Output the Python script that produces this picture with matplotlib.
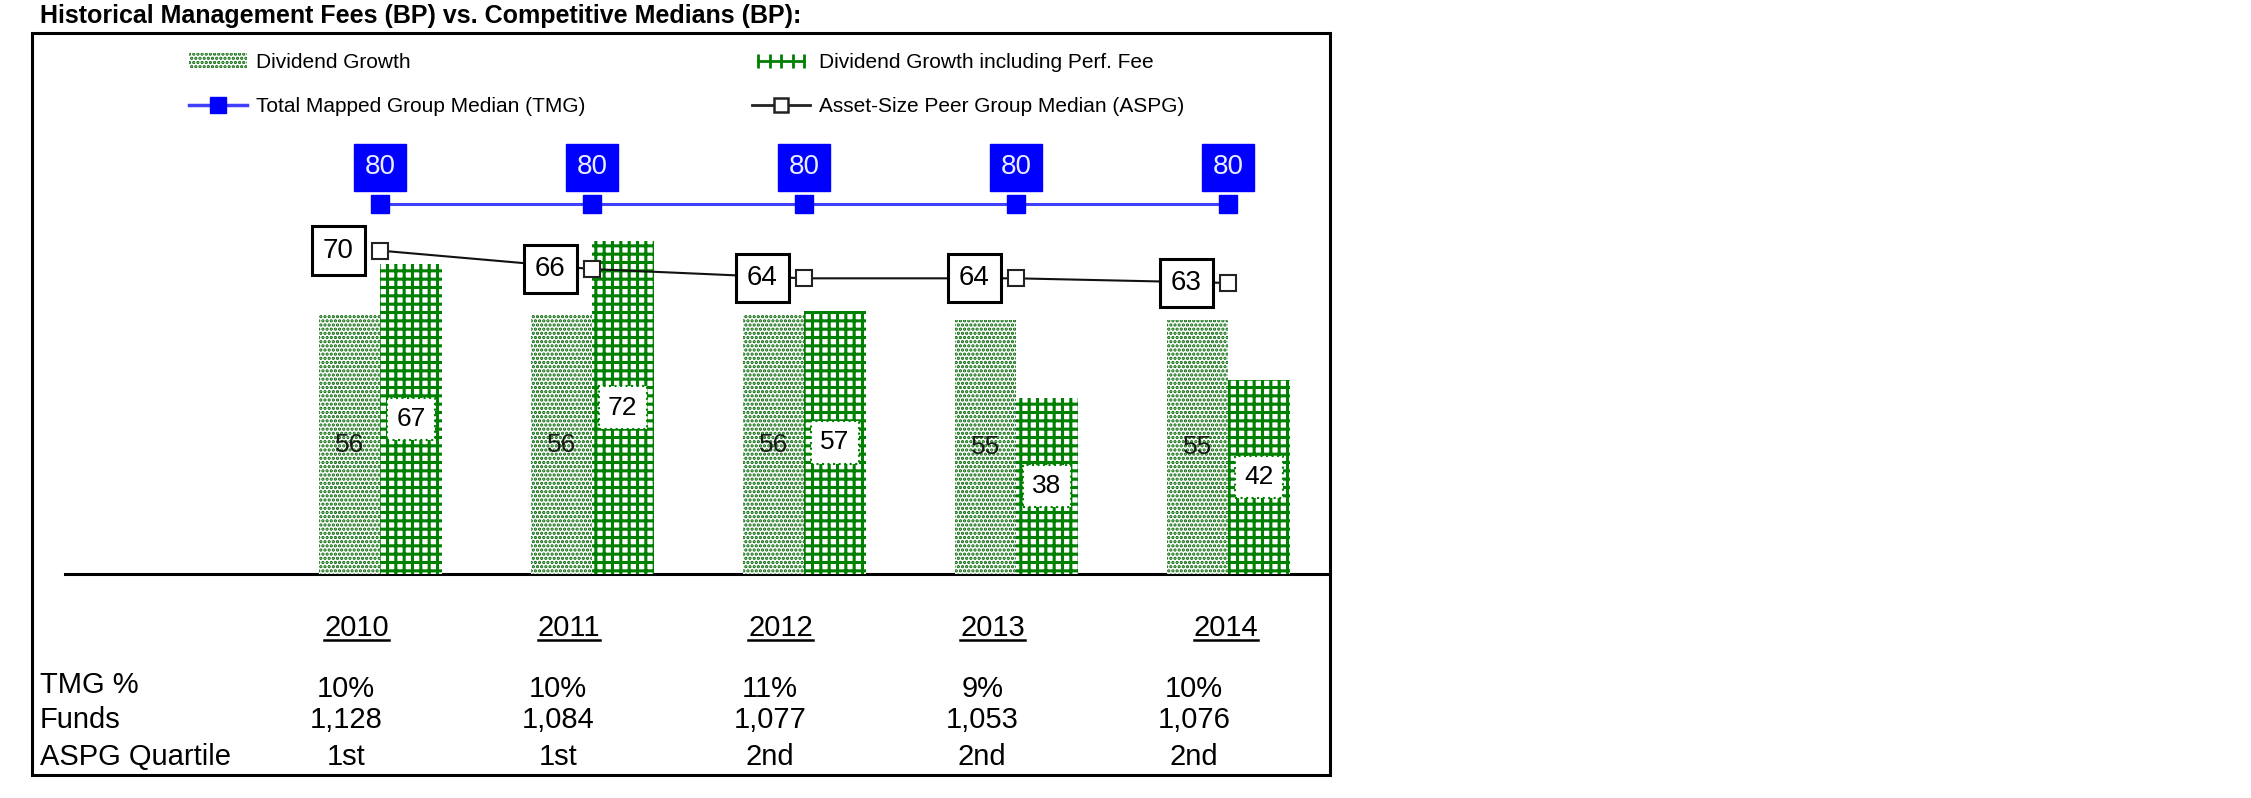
import numpy as np
import matplotlib
matplotlib.use('Agg')
import matplotlib.pyplot as plt
from matplotlib.lines import Line2D
from matplotlib.patches import Patch, Rectangle
from matplotlib.legend_handler import HandlerLine2D

# data
years = ['2010', '2011', '2012', '2013', '2014']
div_growth = [56, 56, 56, 55, 55]
div_growth_perf = [67, 72, 57, 38, 42]
tmg_median = [80, 80, 80, 80, 80]
aspg_median = [70, 66, 64, 64, 63]
tmg_pct = ['10%', '10%', '11%', '9%', '10%']
funds = ['1,128', '1,084', '1,077', '1,053', '1,076']
aspg_quartile = ['1st', '1st', '2nd', '2nd', '2nd']
row_labels = ['TMG %', 'Funds', 'ASPG Quartile']

# small layout nudges for the year headers (the last one sits further right)
year_nudge = [0, 0, 0, 0, 0.1]

GREEN = '#008000'
DOT_GREEN = '#006400'
BLUE = '#0000ff'
plt.rcParams['font.family'] = ['Liberation Sans', 'DejaVu Sans']

W, H = 2251, 798
fig = plt.figure(figsize=(W / 100, H / 100), dpi=100)


def fx(px):
    return px / W


def fy(py):
    return 1 - py / H


# frame round the whole chart
fig.patches.append(Rectangle((fx(32), fy(775)), fx(1330) - fx(32), fy(33) - fy(775),
                             transform=fig.transFigure, fill=False, ec='black', lw=2.2))
fig.text(fx(40), fy(23), 'Historical Management Fees (BP) vs. Competitive Medians (BP):',
         fontsize=18, fontweight='bold', va='baseline')

ax = fig.add_axes([fx(32), fy(574), fx(1330) - fx(32), fy(33) - fy(574)])
x = np.arange(len(years))
ax.set_xlim(-1.642, 4.481)
ax.set_ylim(0, 117.1)
ax.axis('off')
ax.axhline(0, xmin=33 / 1298, xmax=1, color='black', lw=2.2, clip_on=False)

bw = 0.29
plt.rcParams['hatch.linewidth'] = 1.6
ax.bar(x, div_growth, width=-bw, align='edge', color='white', edgecolor=DOT_GREEN,
       hatch='....', linewidth=0, zorder=2)
plt.rcParams['hatch.linewidth'] = 2.2
ax.bar(x, div_growth_perf, width=bw, align='edge', color='white', edgecolor=GREEN,
       hatch='++', linewidth=0, zorder=2)
plt.rcParams['hatch.linewidth'] = 1.6

for xi, v in zip(x, div_growth):
    ax.text(xi - bw / 2, v / 2, str(v), ha='center', va='center', fontsize=19,
            color='#1a1a1a', zorder=4)
for xi, v in zip(x, div_growth_perf):
    ax.text(xi + bw / 2, v / 2, str(v), ha='center', va='center', fontsize=19, zorder=4,
            bbox=dict(boxstyle='square,pad=0.35', fc='white', ec=GREEN, ls=':', lw=1.5))

ax.plot(x, tmg_median, color='#4040ff', lw=2.2, marker='s', ms=13, mfc=BLUE, mec=BLUE, zorder=3)
ax.plot(x, aspg_median, color='#111111', lw=1.5, marker='s', ms=12, mfc='white',
        mec='#222222', mew=1.5, zorder=3)
for xi, v in zip(x, tmg_median):
    ax.annotate(str(v), (xi, v), xytext=(0, 26.6), textcoords='offset points',
                ha='center', va='center', fontsize=20, color='#ececff', zorder=5,
                bbox=dict(boxstyle='square,pad=0.38', fc=BLUE, ec=BLUE, lw=1))
for xi, v in zip(x, aspg_median):
    ax.annotate(str(v), (xi, v), xytext=(-30, 0), textcoords='offset points',
                ha='center', va='center', fontsize=20, zorder=5,
                bbox=dict(boxstyle='square,pad=0.4', fc='white', ec='black', lw=2.2))

# table under the chart
year_texts = []
for xi, yr, nd in zip(x, years, year_nudge):
    year_texts.append(ax.text(xi - 0.11 + nd, -11.7, yr, ha='center', va='center', fontsize=21,
                              clip_on=False))
for row_y, (lab, vals) in zip([-24.0, -31.6, -39.6], zip(row_labels, [tmg_pct, funds, aspg_quartile])):
    ax.text(0.006, row_y, lab, transform=ax.get_yaxis_transform(), ha='left', va='center',
            fontsize=21, clip_on=False)
    for xi, v in zip(x, vals):
        ax.text(xi - 0.16, row_y - (1 if lab == 'TMG %' else 0), v, ha='center', va='center',
                fontsize=21, clip_on=False)

# legends
h_dg = Patch(facecolor='white', edgecolor=DOT_GREEN, hatch='....', linewidth=0)
h_perf = Line2D([], [], color=GREEN, lw=2, marker='|', ms=10, mew=2)
h_tmg = Line2D([], [], color='#4040ff', lw=2.5, marker='s', ms=11, mfc=BLUE, mec=BLUE)
h_aspg = Line2D([], [], color='#222222', lw=2, marker='s', ms=10, mfc='white', mec='#222222', mew=1.8)
leg_kw = dict(loc='upper left', frameon=False, fontsize=15, borderpad=0, borderaxespad=0,
              handlelength=2.8, handletextpad=0.4, labelspacing=1.2, bbox_transform=fig.transFigure)
fig.legend([h_dg, h_tmg], ['Dividend Growth', 'Total Mapped Group Median (TMG)'],
           bbox_to_anchor=(fx(189), fy(53)), **leg_kw)
fig.legend([h_perf, h_aspg], ['Dividend Growth including Perf. Fee', 'Asset-Size Peer Group Median (ASPG)'],
           bbox_to_anchor=(fx(752), fy(53)), handler_map={h_perf: HandlerLine2D(numpoints=5)}, **leg_kw)

# underline the year headers
fig.canvas.draw()
r = fig.canvas.get_renderer()
inv = fig.transFigure.inverted()
for t in year_texts:
    bb = t.get_window_extent(r)
    (x0, y0), (x1, _) = inv.transform([(bb.x0, bb.y0 + 2), (bb.x1, bb.y0 + 2)])
    fig.add_artist(Line2D([x0, x1], [y0, y0], color='black', lw=1.8, transform=fig.transFigure))

fig.savefig('out.png', dpi=100)
